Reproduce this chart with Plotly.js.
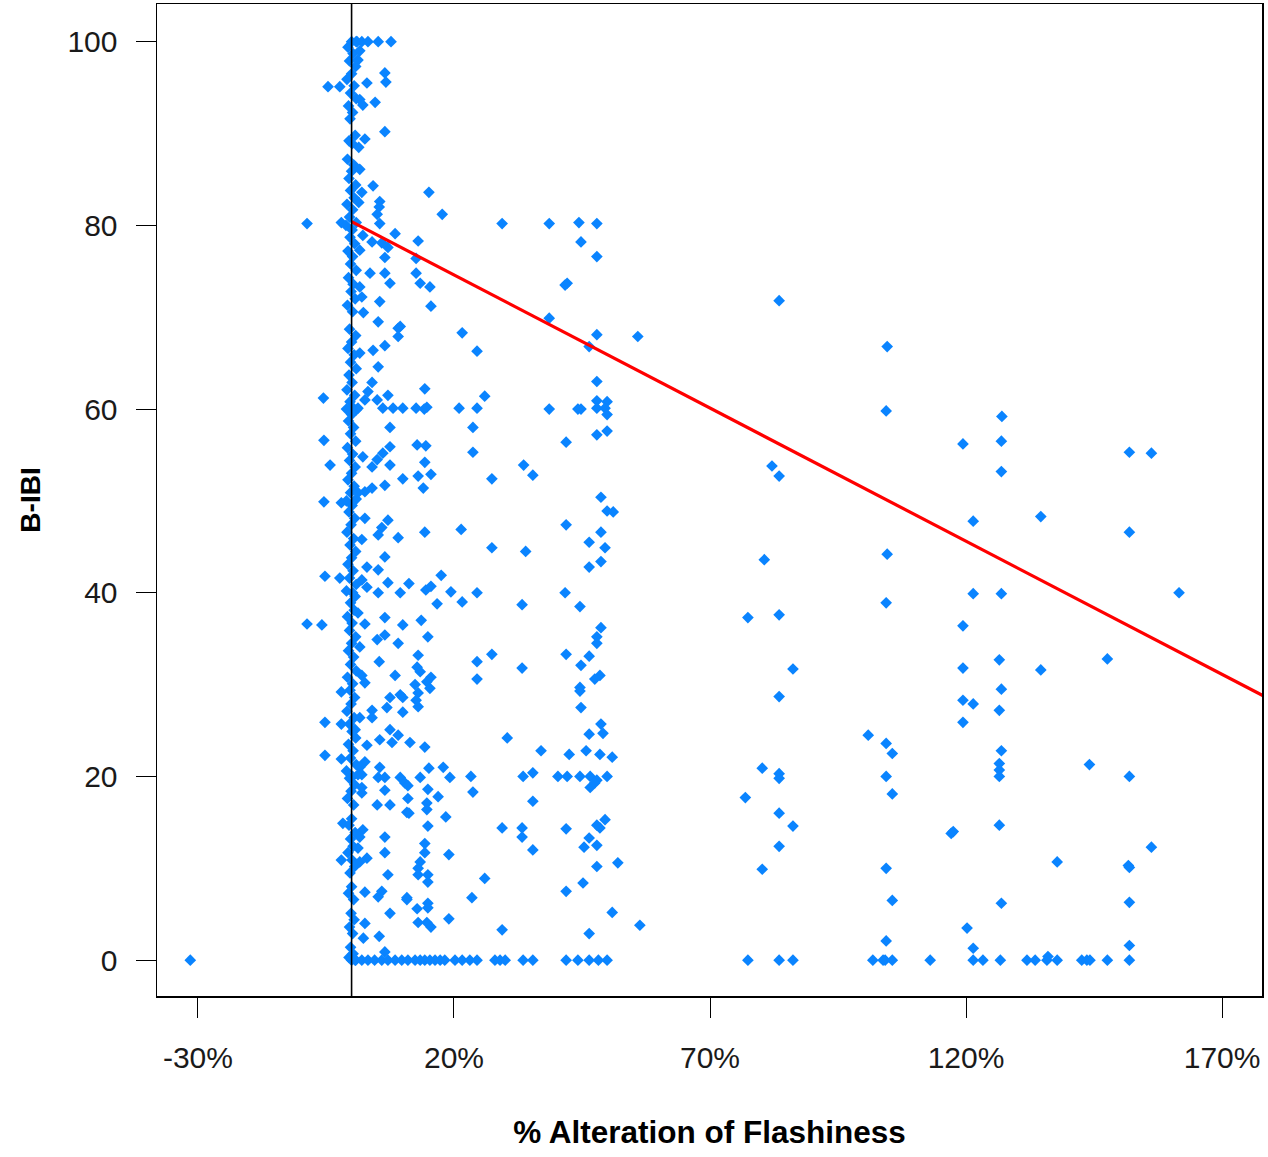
<!DOCTYPE html>
<html>
<head>
<meta charset="utf-8">
<script src="https://cdn.plot.ly/plotly-3.0.1.min.js"></script>
<style>html,body{margin:0;padding:0;background:#fff;}#chart{width:1268px;height:1157px;}</style>
</head>
<body>
<div id="chart"></div>
<script>
// ---- Data (x = % alteration of flashiness, y = B-IBI) ----
// Sites with negative alteration
const negX = [-31.5, -8.7, -8.7, -5.8, -4.6, -2.3, -5.5, -5.4, -4.2, -5.4, -5.2, -5.2, -5.2, -2.3, -2.0, -2.0, -2.0, -2.0, -2.0, -2.0, -1.7];
const negY = [0, 80.2, 36.6, 36.5, 95.1, 95.1, 61.2, 56.6, 53.9, 49.9, 41.8, 25.9, 22.3, 41.6, 49.8, 80.3, 25.7, 21.9, 29.2, 10.9, 14.9];

// Dense band of sites at ~0% alteration
const columnX = [0,0.9,-0.7,0.3,-0.4,0.8,0,-0.9,0.5,-0.2,0.9,-0.6,0.2,-0.3,0.7,-0.5,0.1,-0.8,0.4,0,-0.5,0.8,-0.2,0.5,-0.9,0.2,-0.4,0.9,-1.1,0.1,-0.3,0.6,-0.7,0.2,-0.2,0.9,-0.6,0.3,-0.1,0.7,-0.8,0.2,-0.4,0.8,0,-0.7,0.5,-0.2,0.9,-0.5,0.1,-0.9,0.6,-0.3,0.2,-1.0,0.9,0,-0.6,0.4,-0.2,0.8,-0.8,0.2,-0.4,0.7,0,-0.7,0.5,-0.2,0.9,-1.0,0.1,-0.5,0.6,-0.1,-0.9,0.4,-0.3,0.8,0,-0.7,0.3,-0.4,0.9,-1.0,0.2,0.7,-0.2,0.5,-0.8,0.1,-0.4,0.8,0,-0.6,0.4,-0.2,0.9,-0.8,0.2,-0.3,0.6,-0.1,-0.9,0.5,-0.4,0.1,0.8,-0.6,0.3,-0.2,0.9,-1.0,0.2,-0.4,0.6,-0.1,-0.8,0.4,0,-0.5,0.7,-0.2,0.3,-0.7,0.1,0.6,-0.3,0,-0.6,0.4,-0.1,0.5,-0.4,0.2,-0.2,0.3,-0.5,0,0.8];
const columnY = [100,100,99.4,98.7,97.9,97.3,96.5,95.9,95.2,94.4,93.8,93.0,92.3,91.6,89.8,89.2,88.9,87.2,86.6,85.9,85.1,84.4,83.8,83.0,82.3,81.7,80.9,80.3,80.0,79.5,78.7,78.0,77.2,76.6,75.8,75.1,74.3,73.6,72.8,72.0,71.3,70.6,68.7,68.0,67.3,66.6,65.9,65.1,64.4,63.7,62.9,62.1,61.5,60.8,60.2,60.0,59.9,59.4,58.7,58.0,57.3,56.5,55.8,55.1,54.4,53.7,53.0,52.3,51.6,50.9,50.2,50.0,49.5,48.8,48.1,47.4,46.6,45.9,45.2,44.5,43.8,43.1,42.4,41.6,40.9,40.2,40.0,39.6,38.9,38.1,37.4,36.7,35.9,35.2,34.5,33.7,33.0,32.2,31.5,30.8,30.1,29.4,28.6,27.9,27.1,26.4,25.7,24.9,24.2,23.5,22.8,22.0,21.3,20.6,20.0,19.8,19.1,18.4,17.6,16.9,15.4,14.7,13.9,13.2,12.4,11.7,10.9,10.2,9.5,8.0,7.3,6.6,5.1,4.4,3.6,2.9,1.4,0.7,0.3,0,0];

// Sites with 0-31% alteration
const lowX = [1.05,2.0,3.2,5.2,7.7,1.6,1.25,6.5,6.7,3.0,1.6,4.6,2.2,6.5,2.6,1.4,1.6,4.2,2.0,5.5,5.4,1.4,5.0,5.5,8.5,2.2,4.0,5.9,7.1,1.6,6.5,3.6,6.5,7.5,1.6,5.5,2.0,2.3,9.5,
 5.2,9.1,9.1,6.5,4.2,1.6,5.2,4.0,3.2,7.1,5.0,2.6,10.0,6.1,8.1,1.25,7.5,7.5,6.1,5.0,4.0,2.2,7.5,10.0,6.5,4.0,2.6,1.25,2.6,7.1,5.9,5.2,9.1,2.0,6.5,3.0,5.2,2.0,3.0,7.1,5.2,9.5,1.25,6.5,10.0,2.6,6.5,5.0,9.1,1.6,
 5.4,8.5,2.0,2.6,7.5,9.5,6.9,4.0,10.0,1.6,4.0,0.7,7.5,9.1,5.5,7.9,3.0,2.6,1.6,5.5,1.25,2.0,5.2,6.5,9.5,10.4,2.0,2.0,6.5,5.0,7.5,10.8,2.2,1.6,6.5,1.25,6.5,3.0,1.6,7.1,2.6,5.9,5.2,10.8,7.5,2.6,2.3,5.4,6.5,
 0.7,2.0,3.2,4.5,5.9,7.1,8.5,9.8,11.0,
 15.1,17.7,29.4,13.0,12.6,12.6,13.4,15.3,15.5,21.6,24.5,14.3,26.0,12.6,14.7,14.2,21.0,24.5,23.7,23.7,12.8,14.5,14.3,13.0,15.5,14.0,27.4,14.3,21.4,27.4,
 17.5,11.2,14.5,15.5,19.4,24.5,16.7,21.6,13.6,14.9,27.4,13.0,24.5,12.8,13.4,24.5,15.5,14.7,12.4,15.3,13.0,10.0,12.6,13.0,11.4,14.3,30.4,15.1,17.9,13.4,19.2,23.3,11.0,14.9,16.9,23.7,11.0,14.7,14.7,11.2,18.4,14.9,29.4,14.3,14.3,13.4,19.0,13.0,13.0,14.9,14.9,26.0,10.8,12.8,14.9,14.9,23.5,13.0,14.7,15.5,19.0,29.4,
 12.4,13.4,14.3,15.3,16.3,17.3,18.2,20.2,21.6,23.1,24.5,28.0,29.0,30.0];
const lowY = [100,100,100,100,100,99.0,98.0,96.6,95.6,95.5,93.7,93.4,93.1,90.2,89.4,88.5,86.1,84.3,83.6,82.6,82.0,82.5,81.2,80.2,79.1,78.9,78.2,78.1,77.6,77.3,76.5,74.8,74.8,73.7,73.3,71.7,72.2,70.5,69.0,
 69.5,68.8,67.9,66.9,66.4,66.1,64.6,62.9,61.9,61.5,61.0,61.0,60.1,60.1,60.1,60.1,58.0,55.9,55.2,54.5,53.7,54.8,53.9,52.4,51.7,51.4,51.0,50.9,48.1,47.9,47.1,46.3,46.0,45.8,43.9,42.8,42.5,41.4,40.6,41.1,40.0,40.0,37.8,37.3,36.5,36.6,35.4,34.9,34.5,34.1,
 32.5,31.0,31.0,30.2,28.6,28.9,27.5,27.2,27.0,26.4,26.4,25.1,25.1,24.5,24.0,23.7,23.4,21.6,21.0,21.0,20.2,20.2,19.9,19.9,19.9,19.3,18.8,18.2,18.5,16.9,16.9,16.1,14.2,13.4,13.4,12.2,11.7,11.1,10.7,9.3,7.4,7.5,6.9,6.8,5.1,4.0,2.4,2.6,0.9,
 0,0,0,0,0,0,0,0,0,
 83.6,81.2,80.2,78.3,76.4,74.8,73.7,73.3,71.2,68.3,66.3,62.2,61.4,60.1,60.2,60.0,60.1,60.1,58.0,55.3,56.1,56.0,54.2,52.7,52.9,51.4,52.4,46.6,46.9,44.9,
 41.9,41.0,40.3,40.7,40.1,40.0,38.8,39.0,37.0,35.2,33.3,33.2,32.5,31.9,31.4,30.6,30.8,30.3,30.0,29.6,29.1,28.6,28.3,27.6,23.7,23.2,24.2,20.9,21.0,19.9,19.9,20.0,19.0,18.6,17.8,18.3,17.6,17.1,16.4,16.0,15.6,14.6,14.4,12.7,11.7,10.7,11.5,10.0,9.3,9.3,8.5,8.9,6.6,5.6,6.2,5.7,6.8,4.1,4.1,3.6,4.5,3.3,
 0,0,0,0,0,0,0,0,0,0,0,0,0,0];

// Sites with 33-57% alteration
const midX = [33.6,35.4,34.0,33.3,33.3,33.5,35.4,33.3,33.3,35.4,35.4,38.6,44.4,47.9,44.8,47.9,42.1,41.7,38.6,47.9,46.4,47.9,47.9,49.9,47.9,49.5,49.9,38.6,44.8,44.2,49.9,47.9,41.9,48.7,49.9,51.1,41.9,48.7,46.4,49.5,48.7,46.4,41.7,44.6,48.7,47.9,47.9,41.9,46.4,44.8,48.5,47.5,44.6,44.6,44.8,48.7,49.1,46.4,37.0,42.5,45.8,48.5,50.9,40.3,42.1,44.6,46.6,47.9,49.9,46.6,47.5,49.5,47.9,48.5,41.9,46.4,45.4,47.9,47.9,52.0,41.9,45.2,50.9,46.4,56.3,55.9,
 33.5,35.4,41.9,44.2,46.4,48.2,49.9];
const midY = [53.9,52.8,44.5,38.7,31.8,20.0,20.4,14.4,13.4,12.0,17.3,80.2,80.3,80.2,78.2,76.6,73.7,73.5,69.9,68.1,66.8,63.0,60.9,60.8,60.1,60.1,59.4,60.0,60.0,60.0,57.6,57.2,56.4,50.4,48.9,48.8,47.4,46.6,45.5,44.9,43.4,42.8,40.0,38.5,36.2,35.2,34.5,33.3,33.1,32.1,31.0,30.6,29.7,29.3,27.5,25.7,24.7,24.6,22.8,22.4,22.8,22.4,22.1,20.0,20.0,20.0,20.0,19.6,20.0,18.8,19.3,15.3,14.7,14.4,14.3,13.3,12.3,12.5,10.2,10.6,7.5,8.4,5.2,2.9,3.8,67.9,
 0,0,0,0,0,0,0];

// Sites with more than 75% alteration
const highX = [83.5,104.6,104.4,82.1,83.5,80.6,104.6,104.4,77.4,83.5,86.2,83.5,100.9,104.4,105.6,80.2,83.5,83.5,104.4,105.6,76.9,83.5,86.2,83.5,80.2,104.4,105.6,104.4,
 77.4,83.5,86.2,101.8,103.8,104.2,105.6,
 127.0,126.9,119.4,126.9,121.4,134.6,121.4,126.9,119.4,119.4,126.5,134.6,126.9,119.4,121.4,126.5,119.4,126.9,126.5,126.5,126.5,117.1,117.5,126.5,126.9,120.2,121.4,
 113.0,121.4,123.3,126.7,131.9,133.5,135.8,136.0,137.8,142.6,143.6,144.2,147.6,151.9,
 151.9,156.2,151.9,161.6,147.6,144.1,151.9,156.2,137.8,151.7,151.9,151.9,151.9];
const highY = [71.8,66.8,59.8,53.8,52.7,43.6,44.2,38.9,37.3,37.6,31.7,28.7,24.5,23.6,22.5,20.9,20.3,19.8,20.0,18.1,17.7,16.0,14.6,12.4,9.9,10.0,6.5,2.1,
 0,0,0,0,0,0,0,
 59.2,56.5,56.2,53.2,47.8,48.3,39.9,39.9,36.4,31.8,32.7,31.6,29.5,28.3,27.9,27.2,25.9,22.8,21.4,20.7,20.0,13.8,14.0,14.7,6.2,3.5,1.3,
 0,0,0,0,0,0,0,0.4,0,0,0,0,0,0,
 55.3,55.2,46.6,40.0,32.8,21.3,20.0,12.3,10.7,10.3,10.1,6.3,1.6];

// Fitted regression line (endpoints)
const fitX = [0, 178];
const fitY = [80.4, 28.8];

// Reference line at 0% alteration
const refLineX = 0;

// Axis ticks
const xTickVals = [-30, 20, 70, 120, 170];
const xTickText = ['-30%', '20%', '70%', '120%', '170%'];
const yTickVals = [0, 20, 40, 60, 80, 100];

// ---- Build chart ----
const allX = [].concat(negX, columnX, lowX, midX, highX);
const allY = [].concat(negY, columnY, lowY, midY, highY);

const FONT = 'Liberation Sans, Arial, Helvetica, sans-serif';

const traces = [
  {
    type: 'scatter', mode: 'markers', x: allX, y: allY, name: 'Sites',
    marker: {symbol: 'diamond', size: 9, color: '#0a84ff', line: {width: 0}},
    hoverinfo: 'x+y'
  },
  {
    type: 'scatter', mode: 'lines', x: fitX, y: fitY, name: 'Fit',
    line: {color: '#ff0000', width: 3.2}
  }
];

const layout = {
  width: 1268, height: 1157,
  margin: {l: 157, r: 6, t: 4, b: 161, pad: 0},
  paper_bgcolor: '#ffffff', plot_bgcolor: '#ffffff',
  showlegend: false,
  font: {family: FONT, size: 30, color: '#1a1a1a'},
  xaxis: {
    range: [-38, 177.8], tickmode: 'array', tickvals: xTickVals, ticktext: xTickText,
    showgrid: false, zeroline: false, showline: true, mirror: true, linecolor: '#000', linewidth: 1.5,
    ticks: 'outside', ticklen: 20, tickwidth: 1, tickcolor: '#000',
    ticklabelstandoff: 14,
    tickfont: {family: FONT, size: 30, color: '#1a1a1a'},
    title: {text: '% Alteration of Flashiness', font: {family: FONT, size: 31.5, color: '#000', weight: 'bold'}, standoff: 48}
  },
  yaxis: {
    range: [-3.9, 104.1], tickmode: 'array', tickvals: yTickVals,
    showgrid: false, zeroline: false, showline: true, mirror: true, linecolor: '#000', linewidth: 1.5,
    ticks: 'outside', ticklen: 20, tickwidth: 1, tickcolor: '#000',
    ticklabelstandoff: 12,
    tickfont: {family: FONT, size: 30, color: '#1a1a1a'},
    title: {text: 'B-IBI', font: {family: FONT, size: 28, color: '#000', weight: 'bold'}, standoff: 18}
  },
  shapes: [
    {type: 'line', xref: 'x', yref: 'paper', x0: refLineX, x1: refLineX, y0: 0, y1: 1,
     line: {color: '#000', width: 1.6}, layer: 'above'}
  ]
};

Plotly.newPlot('chart', traces, layout, {staticPlot: true, displayModeBar: false});
</script>
</body>
</html>
